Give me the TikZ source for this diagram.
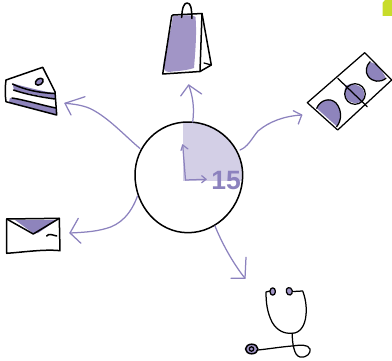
\documentclass[tikz,border=0pt]{standalone}
\usepackage{fontspec}
\setmainfont{Liberation Sans}
\definecolor{lav}{HTML}{8C82BE}
\definecolor{lavfill}{HTML}{8E84BC}
\definecolor{lavbag}{HTML}{A195C6}
\definecolor{pale}{HTML}{D3CFE6}
\definecolor{lime}{HTML}{C8DC2A}
\tikzset{
  ink/.style={draw=black,line width=1.5pt,line cap=round,line join=round},
  inkthin/.style={draw=black,line width=1.25pt,line cap=round,line join=round},
  spoke/.style={draw=lav,line width=1.25pt,line cap=round,line join=round},
  blob/.style={fill=lavfill,draw=none},
}
\begin{document}
\begin{tikzpicture}[x=1pt,y=-1pt]
\useasboundingbox (0,0) rectangle (392,361);
% lime corner
\fill[lime] (392,0) -- (385,0) -- (382.5,3) -- (382.5,16) -- (392,16) -- cycle;
% hub
\def\hubpath{(188,122) .. controls (218,122) and (242.7,146) .. (242.7,175) .. controls (242.7,206) and (218,232.7) .. (188,232.7) .. controls (158,232.7) and (135,206) .. (135,175) .. controls (135,146) and (158,122) .. (188,122) -- cycle}
\begin{scope}
\clip \hubpath;
\fill[pale] (183.3,120) rectangle (245,181);
\end{scope}
\draw[ink] \hubpath;
\coordinate (hubT) at (192.7,122);
\coordinate (hubR) at (240,150);
\coordinate (hubL) at (140,148.5);
\coordinate (hubBL) at (137.5,196);
\coordinate (hubB) at (215,226);
\coordinate (pivot) at (185.5,180);
\coordinate (minTip) at (182.7,145);
\coordinate (secTip) at (206,179.3);
\coordinate (bagEnd) at (188.7,85);
\coordinate (cakeEnd) at (65,103.3);
\coordinate (mailEnd) at (70,233);
\coordinate (billEnd) at (301.7,115);
\coordinate (stethEnd) at (245,278.3);
% clock hands
\draw[spoke] (pivot) -- (minTip);
\draw[spoke] (181,150.5) -- (minTip) -- (188,149);
\draw[spoke] (pivot) -- (secTip);
\draw[spoke] (201.7,175.7) -- (secTip) -- (201.7,182.7);
\node[text=lav,font=\bfseries\fontsize{26.5}{26.5}\selectfont,inner sep=0pt] (num) at (226.2,180.5) {15};
% spokes
\draw[spoke] (hubT) .. controls (194.5,108) and (193,97) .. (bagEnd);
\draw[spoke] (180.7,96) -- (bagEnd) -- (201.7,94);
\draw[spoke] (hubL) .. controls (125,136) and (108,117) .. (90,108.5) .. controls (82,105) and (73,104) .. (cakeEnd);
\draw[spoke] (85,96.7) -- (cakeEnd) -- (71,115);
\draw[spoke] (hubBL) .. controls (131,214) and (120,225) .. (106,228.5) .. controls (94,232) and (80,232.5) .. (mailEnd);
\draw[spoke] (78.3,218.3) -- (mailEnd) -- (81,243.3);
\draw[spoke] (hubR) .. controls (248,147) and (252,138) .. (258,131) .. controls (270,121) and (285,116) .. (billEnd);
\draw[spoke] (293.3,110.7) -- (billEnd) -- (298.3,124);
\draw[spoke] (hubB) .. controls (221,241) and (232,262) .. (stethEnd);
\draw[spoke] (246,257.3) -- (stethEnd) -- (231,278.3);
% bag
\fill[lavbag] (173,16) .. controls (185,15) and (195,15) .. (195.5,17) .. controls (197,35) and (195,55) .. (194,68) .. controls (185,71) and (175,71) .. (169,72) .. controls (164,72) and (162.5,68) .. (164,60) .. controls (167,45) and (171,30) .. (173,16) -- cycle;
\draw[ink] (171.7,16) -- (162.7,74) -- (200,71.5) -- (202,13.5) -- (173,15) -- (171.7,16);
\draw[ink] (202,13.5) -- (211.3,65) -- (200,71.5);
\draw[inkthin] (204,63) -- (211.3,65);
\draw[ink] (181.7,17.5) .. controls (182,8) and (184,3) .. (187,3) .. controls (191,3) and (191.5,8) .. (192,18.5);
% cake
\path[blob] (12.5,83.5) .. controls (30,88) and (45,92) .. (55,93) -- (55,98.5) .. controls (40,96) and (25,93) .. (14,90) -- cycle;
\path[blob] (10,98) .. controls (25,101) and (45,106) .. (56,108.5) -- (56.5,115) .. controls (40,111) and (22,106) .. (9,102) -- cycle;
\draw[ink] (6,80) -- (42.7,67.3) -- (55,91.7) -- (56.7,115) -- (6,101.7) .. controls (5,95) and (5,87) .. (6,80);
\draw[ink] (12.5,84) .. controls (25,90) and (40,93) .. (55,93.5);
\draw[ink] (13.5,90) .. controls (25,94) and (40,97) .. (55,99);
\draw[ink] (12,98) .. controls (25,100) and (45,106) .. (56,108);
\draw[ink,fill=lavfill,rotate around={35:(39.3,81.7)}] (39.3,81.7) ellipse (4.3 and 3);
% envelope
\path[blob] (15,220) -- (57,220) -- (38,233) -- (33.5,233.5) -- cycle;
\draw[ink] (6.7,219) -- (59.3,218.3) -- (60,250.7) .. controls (45,249) and (25,252) .. (6.7,253.3) -- cycle;
\draw[ink] (6.7,219) -- (33.3,234) -- (59.3,218.3);
\draw[ink] (46.7,236) .. controls (49,233) and (52,235) .. (56.7,236);
% bill
\path[blob] (316.7,108.3) .. controls (320,100) and (330,97) .. (336,103) .. controls (342,110) and (342,120) .. (337,126.5) -- cycle;
\path[blob] (370.5,62) .. controls (376,63) and (382,70) .. (386,78.3) .. controls (380,83) and (372,82) .. (368,76) .. controls (365,71) and (367,65) .. (370.5,62) -- cycle;
\draw[inkthin] (364.7,52.7) -- (391.7,80) -- (337.7,130) -- (307.3,102.7) -- cycle;
\fill[lavfill] (346,85.5) .. controls (350,83) and (358,84) .. (363,89) .. controls (365,93) and (365,99) .. (361,102) .. controls (356,104) and (350,103) .. (347,99) .. controls (344,95) and (344,89) .. (346,85.5) -- cycle;
\draw[inkthin] (355,94) ellipse (10.3 and 10.3);
\draw[inkthin] (337.7,78.3) -- (367.3,106.7);
\draw[inkthin] (316.7,108.3) .. controls (320,100) and (330,97) .. (336,103) .. controls (342,110) and (342,120) .. (336.7,126.7);
\draw[inkthin] (370,61.7) .. controls (366,66) and (365,72) .. (368,76) .. controls (372,82) and (380,83) .. (386,78.3);
% stethoscope
\draw[inkthin] (270,291) -- (266,292) .. controls (266,302) and (267,312) .. (272,322) .. controls (277,331) and (285,334) .. (292.3,333.3) .. controls (300,333) and (305,326) .. (306,315) .. controls (307,306) and (305,297) .. (302.7,291) -- (293.5,291.5);
\draw[inkthin] (292.3,333.3) .. controls (292,342) and (294,356) .. (300,357) .. controls (307,358) and (311,353) .. (310,349) .. controls (308,344) and (300,345) .. (292,346) .. controls (280,347) and (268,349) .. (258,350);
\draw[inkthin,fill=lavbag] (272.7,291.5) ellipse (2.7 and 3.7);
\draw[inkthin,fill=lavbag,rotate around={15:(289.3,291.3)}] (289.3,291.3) ellipse (3 and 3.8);
\draw[ink,fill=lavbag] (251.7,349) ellipse (6.2 and 4.8);
\draw[inkthin] (251.5,349) ellipse (2.2 and 2.2);
\end{tikzpicture}
\end{document}
